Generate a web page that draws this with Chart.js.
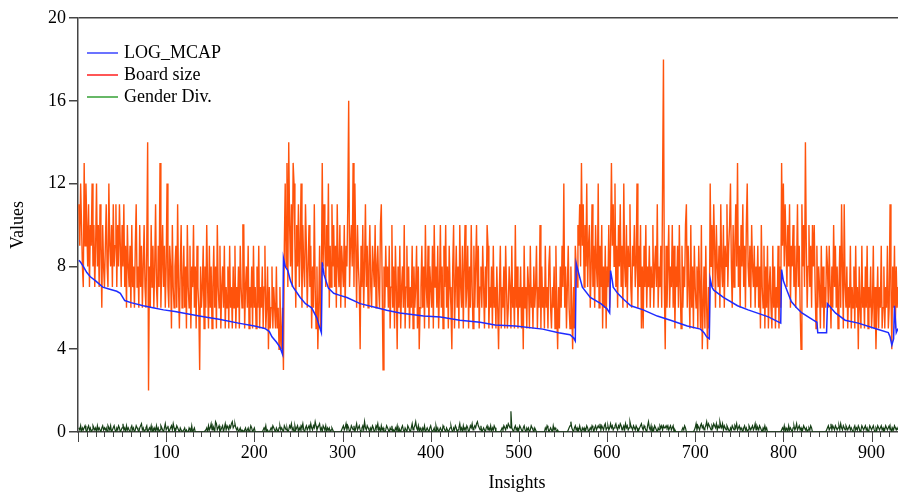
<!DOCTYPE html>
<html lang="en">
<head>
<meta charset="UTF-8">
<title>LOG_MCAP, Board size, Gender Div.</title>
<script src="https://cdn.jsdelivr.net/npm/chart.js@4.4.1/dist/chart.umd.min.js"></script>
<style>
  body { margin: 0; background: #fff; }
  canvas { display: block; }
</style>
</head>
<body>
<canvas id="myChart" width="898" height="493"></canvas>
<script>
// series names, as in the legend
const seriesNames = ['LOG_MCAP', 'Board size', 'Gender Div.'];

// LOG_MCAP: read at these insight numbers (the curve is sorted inside each block)
const mcapAt = [
    1, 3, 6, 10, 14, 20, 28, 36, 44, 48, 53, 60, 74, 85, 97, 110, 125, 144, 160, 182, 200, 212, 217, 220, 225, 229, 232,
    233, 235, 238, 241, 244, 248, 252, 258, 265, 271, 273, 276,
    277, 279, 284, 290, 297, 305, 320, 339, 350, 365, 392, 411, 433, 456, 473, 496, 527, 545, 558, 562, 564,
    565, 567, 572, 581, 593, 600, 603,
    604, 606, 607, 612, 619, 627, 641, 657, 672, 691, 706, 710, 713, 716,
    717, 719, 721, 732, 748, 760, 783, 797,
    798, 800, 804, 809, 815, 821, 834, 838, 839, 844, 849,
    850, 859, 870, 885, 904, 919, 921, 923, 925,
    926, 928, 930
];
const logMcap = [
    8.3, 8.2, 8.0, 7.7, 7.5, 7.3, 7.0, 6.9, 6.8, 6.7, 6.35, 6.25, 6.1, 6.0, 5.9, 5.82, 5.7, 5.56, 5.45, 5.26, 5.12, 5.0, 4.85, 4.6, 4.35, 4.1, 3.75,
    8.4, 8.0, 7.8, 7.3, 7.0, 6.75, 6.5, 6.2, 6.0, 5.5, 5.2, 4.8,
    8.2, 7.6, 6.95, 6.7, 6.6, 6.5, 6.2, 6.0, 5.88, 5.75, 5.6, 5.55, 5.4, 5.3, 5.17, 5.12, 4.97, 4.8, 4.7, 4.55, 4.4,
    8.15, 7.8, 7.0, 6.5, 6.2, 5.95, 5.75,
    7.8, 7.3, 7.0, 6.7, 6.4, 6.1, 5.9, 5.6, 5.4, 5.12, 4.97, 4.8, 4.6, 4.5,
    7.4, 7.0, 6.85, 6.5, 6.1, 5.9, 5.56, 5.26,
    7.85, 7.3, 6.85, 6.3, 6.0, 5.75, 5.4, 5.3, 4.8, 4.8, 4.8,
    6.2, 5.75, 5.4, 5.26, 5.0, 4.8, 4.6, 4.2, 4.5,
    6.1, 4.8, 5.0
];

// Board size, insights 1..930 (ten per row)
const boardSize = [
    11,9,12,10,8,7,13,9,12,10,
    8,11,7,10,9,12,8,10,7,9,
    12,8,10,7,11,9,6,10,8,7,
    9,11,8,7,12,9,8,10,7,11,
    8,9,11,7,10,8,11,9,7,10,
    8,11,7,9,6,10,8,7,9,6,
    10,7,8,6,9,11,7,8,6,10,
    7,9,6,8,10,7,6,9,14,2,
    8,6,10,7,9,6,8,11,7,6,
    9,7,13,6,8,10,7,9,6,8,
    12,7,6,9,8,5,10,7,6,8,
    9,6,11,7,5,8,10,6,7,9,
    6,8,5,10,7,6,9,5,8,7,
    10,6,8,5,9,7,6,3,8,6,
    7,9,5,8,6,10,7,5,9,6,
    8,5,7,9,6,8,5,10,7,6,
    9,5,7,8,6,9,5,7,6,8,
    5,9,6,7,5,8,6,9,5,7,
    6,8,5,9,7,6,10,10,5,7,
    8,6,9,5,7,6,8,5,9,6,
    7,5,8,6,9,5,7,6,8,5,
    7,9,5,6,8,4,7,5,6,8,
    5,7,6,5,8,5,6,4,7,5,
    4,6,3,9,12,8,13,7,14,10,
    8,11,7,13,12,9,6,10,8,11,
    7,9,12,6,10,8,7,11,9,6,
    8,10,7,9,5,8,6,11,7,5,
    8,4,6,9,5,7,13,8,11,9,
    7,10,8,12,6,9,7,11,8,10,
    7,9,6,11,8,7,10,6,9,8,
    7,10,6,9,8,11,16,7,9,10,
    8,13,7,12,9,6,10,8,7,4,
    9,7,10,6,8,11,7,9,6,8,
    10,7,6,9,8,7,10,6,8,9,
    7,6,10,11,7,3,8,6,9,7,
    8,6,9,5,7,10,6,8,5,9,
    7,4,8,6,9,5,7,8,6,10,
    5,7,9,6,8,5,7,6,9,5,
    8,6,7,9,5,8,4,6,7,9,
    6,8,5,10,7,6,9,5,8,7,
    6,9,5,10,7,8,6,9,5,7,
    10,6,8,5,9,7,10,6,8,5,
    9,7,6,4,8,10,5,7,9,6,
    8,5,10,7,6,9,5,8,10,6,
    7,9,5,8,6,10,7,5,9,6,
    8,10,6,9,5,7,8,6,9,7,
    5,8,6,10,9,5,7,6,8,5,
    9,6,7,5,8,6,4,7,9,5,
    7,6,8,5,9,7,5,6,8,7,
    5,9,6,7,5,10,6,8,5,7,
    6,8,5,7,4,9,6,7,5,8,
    7,5,9,6,7,5,8,6,7,9,
    5,7,6,10,5,8,6,7,5,9,
    6,7,5,8,9,6,5,7,6,8,
    5,9,6,4,7,5,8,6,9,7,
    12,6,8,5,7,9,6,5,8,6,
    4,7,5,9,8,7,10,9,11,8,
    13,9,11,7,10,8,12,7,9,10,
    6,8,11,7,9,6,10,8,7,12,
    6,9,7,10,5,8,6,9,5,8,
    7,10,6,9,13,9,11,8,12,7,
    9,6,10,8,11,7,9,6,12,8,
    7,10,6,9,8,11,7,6,9,8,
    10,7,8,12,6,9,7,10,5,8,
    5,9,7,10,6,8,7,9,6,8,
    7,10,6,8,9,7,11,6,8,7,
    9,6,12,18,7,4,9,6,8,10,
    6,8,7,10,6,9,5,8,7,9,
    6,10,7,5,9,6,8,7,10,11,
    6,9,7,5,10,6,8,5,9,7,
    6,8,5,9,7,5,10,4,6,8,
    5,9,6,4,7,5,12,8,10,7,
    11,9,6,10,8,7,9,6,11,8,
    7,10,6,9,8,11,7,9,10,12,
    8,6,10,7,9,11,8,13,7,9,
    6,10,8,11,7,9,6,10,12,8,
    7,9,6,10,8,7,9,6,8,7,
    9,6,8,5,10,7,6,9,5,8,
    6,9,5,7,8,6,5,9,6,8,
    5,7,6,9,5,8,6,13,9,12,
    8,11,9,7,10,8,11,6,9,8,
    10,7,9,6,8,11,7,9,6,4,
    11,8,10,7,14,9,6,8,10,7,
    9,6,10,8,10,7,5,9,6,8,
    7,5,9,6,8,5,7,6,9,8,
    6,9,7,5,8,6,10,7,9,6,
    8,5,7,9,6,11,8,5,11,7,
    6,8,5,7,6,9,5,7,6,8,
    5,9,6,7,4,8,6,5,9,6,
    7,5,8,6,9,5,7,6,8,5,
    6,9,5,7,4,6,8,5,7,6,
    9,5,6,8,5,7,6,9,5,6,
    11,7,4,8,6,9,5,8,6,7
];

// Gender Div., insights 1..930 (thirty per row)
const genderDiv = [
    .2,.1,.3,0,.2,.1,.2,.3,.1,0,.2,.3,.1,.2,0,.1,.3,.2,.1,.2,0,.3,.1,.2,.1,0,.2,.3,.1,.2,
    .1,.2,0,.3,.2,.1,.3,0,.1,.2,.3,.1,0,.2,.1,.3,.2,0,.1,.2,.4,.1,.2,0,.3,.1,.2,.1,0,.2,
    .3,.1,.2,0,.1,.3,.2,.1,0,.2,.3,.4,.1,.2,0,.1,.2,.3,0,.1,.2,.1,.3,0,.2,.1,.2,0,.3,.1,
    .2,0,.1,.3,.2,.1,0,.2,.4,.1,.2,.3,0,.1,.2,.3,.1,.4,.2,0,.1,.3,.2,.1,0,.2,.1,0,0,.1,
    .2,0,.1,0,0,.2,.1,0,.3,0,.1,.2,0,0,0,0,0,0,0,0,0,0,0,0,.1,.2,0,.3,.1,.2,
    .4,.1,.3,.2,0,.5,.4,.1,.2,.3,0,.1,.2,.3,0,.2,.4,.1,.3,.2,.1,.3,.2,.4,.5,.2,.3,.4,.2,.1,
    .2,0,.1,.2,0,.1,0,0,.1,.2,0,.1,.2,0,.1,.3,.2,0,.1,.2,0,0,0,0,0,0,0,0,0,.1,
    .2,.1,.3,0,.1,0,0,.1,.2,.1,.3,.2,.1,0,.2,.1,0,.2,.3,.1,.2,.1,0,.3,.2,.1,.2,0,.1,.3,
    .2,.4,.1,.2,0,.3,.1,.2,.3,0,.2,.1,.3,.2,.4,.1,0,.2,.3,.1,.2,.3,.1,.4,.2,.1,.3,.2,.5,.3,
    .1,.2,.3,.4,.1,.2,0,.3,.2,.1,.3,0,.2,.1,.2,0,.1,.2,.1,0,0,0,0,0,0,0,0,0,.1,.2,
    .3,.1,.2,.4,.1,.3,.2,0,.1,.3,.2,.1,.3,0,.2,.4,.1,.2,.3,.1,0,.2,.3,.1,.5,.2,.1,.3,.2,.1,
    0,.2,.1,.3,.2,0,.1,.3,.2,.4,.1,.2,0,.3,.1,.2,0,0,.1,.3,.2,.1,0,.2,.1,.3,0,.1,0,.2,
    .1,.3,0,.2,.1,0,.2,.3,.1,0,.2,.1,0,.3,.2,.1,0,.2,.4,.1,.2,.3,.5,.2,.1,.3,0,.2,.1,0,
    .2,.1,.3,0,.1,.2,.1,0,.2,.3,.1,0,.1,.2,0,.3,.1,.2,0,.1,.2,.1,0,.3,.2,.1,0,.2,.1,0,
    .1,.2,.3,.1,0,.2,.1,.3,.2,0,.1,.2,.4,.1,.2,0,.3,.1,.2,.1,.3,.2,0,.1,.3,.2,.4,.1,.2,.3,
    .2,.4,.5,.3,.2,.1,.3,0,.1,.2,.1,0,.2,.3,.1,.2,.1,.3,0,.2,.1,.3,.2,0,0,0,0,0,0,.1,
    .2,.1,.3,.2,.1,.3,.2,.4,.3,.2,1.0,.2,.1,0,.2,.3,.1,.2,0,.1,.3,.2,.1,0,.2,.3,.1,0,.2,.1,
    .2,0,.1,.3,.2,.1,0,.2,.1,0,0,0,0,0,0,0,0,0,0,.2,.1,.3,.2,0,.1,.2,.1,0,.3,.1,
    .2,.1,0,.1,0,0,0,0,0,0,0,0,0,0,0,.1,.2,.3,.5,.2,.1,0,.2,.3,.1,.2,0,.1,.3,.1,
    0,.2,.1,.2,0,.1,.3,.2,0,.1,.2,.1,.3,.2,0,.2,.3,.1,.2,.3,.2,.4,.1,.3,.2,.1,.3,.4,.1,.2,
    .3,.1,.2,.4,.2,.3,.1,.2,.3,.4,.2,.1,.3,.2,.4,.3,.1,.2,.3,.1,.4,.2,.3,.1,.2,.5,.3,.2,.1,.3,
    .2,.1,.3,.2,0,.1,.2,.3,.4,.2,.1,.3,.2,.1,0,.3,.5,.2,.1,.3,0,.2,.1,.3,.2,.1,0,.2,.1,.3,
    .2,.3,.1,.3,.2,.2,.3,.2,.3,.1,.2,.3,.1,.2,.3,0,.1,0,0,0,0,0,0,0,.1,.2,.1,.3,.2,0,
    0,0,0,0,0,0,0,0,.1,.2,.4,.1,.3,.2,.1,.3,.4,.2,.3,.1,.2,.3,.5,.2,.4,.3,.2,.1,.3,.2,
    .4,.3,.2,.4,.1,.3,.2,.5,.3,.2,.4,.1,.3,.2,.1,.3,.2,.1,0,.2,.1,.3,.2,.1,.3,.2,.4,.1,.2,.3,
    .1,.2,.1,0,.2,.3,.1,.2,0,.1,.3,.2,.1,.2,.3,.1,.2,.4,.1,.3,.2,.1,.3,.2,.1,0,.2,.1,.3,.1,
    .2,0,0,0,0,0,0,0,0,0,0,0,0,0,0,0,0,.1,.2,.1,.3,0,.2,.1,0,.3,.1,.2,.1,0,
    .2,.3,.1,.2,.4,.1,.2,.3,.1,.2,0,.1,.3,.2,.1,.2,0,.1,.2,.1,.3,.2,0,0,0,0,0,0,0,0,
    0,0,0,0,0,0,0,0,.1,.2,.3,.1,.2,.4,.1,.3,.2,.1,.3,.2,.1,.2,.3,.1,.4,.2,.1,.3,.2,.1,
    .3,.2,.1,.2,.3,.1,.2,.1,0,.2,.3,.1,.2,.1,.3,.2,0,.1,.3,.2,.1,.2,.3,.1,.2,0,.1,.3,.2,.1,
    .2,.3,.1,0,.2,.1,.3,.2,.1,.2,.3,.1,.2,0,.1,.3,.2,.1,.2,.3,.1,.2,0,.2,.1,.3,.2,.1,.2,.1
];

// axis ticks
const yTickValues = [0, 4, 8, 12, 16, 20];
const xMinorStep = 10;
const xLabelStep = 100;
const xMax = 930;

const lineColors = ['#1f2cff', '#ff530c', '#153f15'];
const legendColors = ['#3a45ff', '#ff1e1e', '#35a035'];
const serif = "'Liberation Serif', 'Times New Roman', serif";

// legend inside the plot, x ticks with long marks every 100, axis title
const extras = {
    id: 'extras',
    afterDraw(chart) {
        const c = chart.ctx;
        const area = chart.chartArea;
        const sx = chart.scales.x;
        c.save();
        c.strokeStyle = '#444';
        c.lineWidth = 1;
        sx.ticks.forEach(function (t) {
            const px = Math.round(sx.getPixelForValue(t.value)) + 0.5;
            const len = t.value % xLabelStep === 0 ? 10 : 5;
            c.beginPath();
            c.moveTo(px, area.bottom);
            c.lineTo(px, area.bottom + len);
            c.stroke();
        });

        c.font = '18px ' + serif;
        c.fillStyle = '#000';
        c.textBaseline = 'middle';
        seriesNames.forEach(function (name, i) {
            const y = area.top + 35 + i * 22;
            c.strokeStyle = legendColors[i];
            c.lineWidth = 1.5;
            c.beginPath();
            c.moveTo(area.left + 9, y);
            c.lineTo(area.left + 40, y);
            c.stroke();
            c.fillText(name, area.left + 46, y);
        });

        c.textAlign = 'center';
        c.textBaseline = 'alphabetic';
        c.fillText('Insights', (area.left + area.right) / 2 + 29, 488);
        c.restore();
    }
};

const ctx = document.getElementById('myChart');

new Chart(ctx, {
    type: 'line',
    data: {
        datasets: [
            {
                label: seriesNames[0],
                data: mcapAt.map((x, i) => ({ x: x, y: logMcap[i] })),
                borderColor: lineColors[0],
                borderWidth: 1.5
            },
            {
                label: seriesNames[1],
                data: boardSize.map((v, i) => ({ x: i + 1, y: v })),
                borderColor: lineColors[1],
                borderWidth: 1.4
            },
            {
                label: seriesNames[2],
                data: genderDiv.map((v, i) => ({ x: i + 1, y: v })),
                borderColor: lineColors[2],
                borderWidth: 1.2
            }
        ]
    },
    options: {
        responsive: false,
        animation: false,
        layout: { padding: { top: 18, right: 0, left: 0, bottom: 0 } },
        elements: {
            point: { radius: 0 },
            line: { tension: 0 }
        },
        plugins: {
            legend: { display: false },
            tooltip: { enabled: false }
        },
        scales: {
            x: {
                type: 'linear',
                min: 0,
                max: xMax,
                afterFit: function (s) { s.height = 61; },
                ticks: {
                    stepSize: xMinorStep,
                    autoSkip: false,
                    maxRotation: 0,
                    padding: 0,
                    color: '#000',
                    font: { family: serif, size: 18 },
                    callback: v => (v % xLabelStep === 0 && v > 0) ? v : ''
                },
                grid: {
                    drawOnChartArea: false,
                    tickLength: 10,
                    tickColor: 'transparent'
                },
                border: { color: '#444', width: 1.5 }
            },
            y: {
                min: 0,
                max: 20,
                afterFit: function (s) { s.width = 78; },
                afterBuildTicks: function (s) { s.ticks = yTickValues.map(v => ({ value: v })); },
                ticks: {
                    padding: 3,
                    color: '#000',
                    font: { family: serif, size: 18 }
                },
                grid: {
                    color: c => c.tick && c.tick.value === 20 ? '#444' : 'transparent',
                    lineWidth: 1.5,
                    tickColor: '#444',
                    tickLength: 9
                },
                border: { color: '#444', width: 1.5 },
                title: {
                    display: true,
                    text: 'Values',
                    color: '#000',
                    padding: { top: 7, bottom: 0 },
                    font: { family: serif, size: 18 }
                }
            }
        }
    },
    plugins: [extras]
});
</script>
</body>
</html>
